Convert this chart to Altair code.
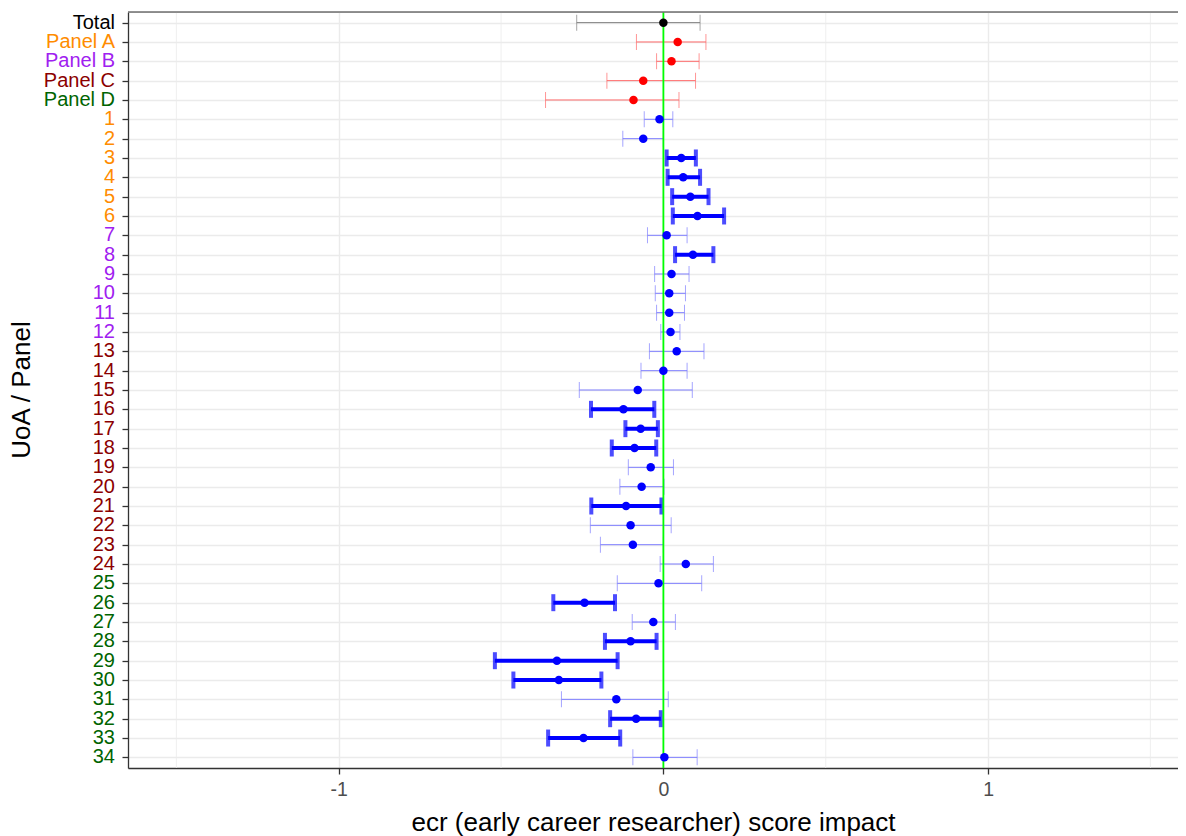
import altair as alt
import pandas as pd

# ---------------- data ----------------
labels = ["Total", "Panel A", "Panel B", "Panel C", "Panel D"] + [str(i) for i in range(1, 35)]

est = [0.000, 0.044, 0.025, -0.062, -0.092,
       -0.012, -0.062, 0.055, 0.061, 0.083, 0.105, 0.010, 0.091, 0.025, 0.018,
       0.018, 0.022, 0.041, 0.000, -0.079, -0.123, -0.070, -0.089, -0.039, -0.067,
       -0.115, -0.101, -0.094, 0.069, -0.015, -0.243, -0.031, -0.101, -0.328, -0.322,
       -0.145, -0.084, -0.246, 0.003]

lo = [-0.267, -0.083, -0.021, -0.174, -0.363,
      -0.059, -0.125, 0.010, 0.013, 0.027, 0.029, -0.049, 0.036, -0.027, -0.025,
      -0.021, -0.008, -0.043, -0.069, -0.259, -0.223, -0.117, -0.159, -0.108, -0.134,
      -0.222, -0.225, -0.194, -0.010, -0.142, -0.339, -0.096, -0.180, -0.519, -0.462,
      -0.314, -0.164, -0.355, -0.094]

hi = [0.113, 0.131, 0.110, 0.099, 0.048,
      0.029, 0.000, 0.100, 0.113, 0.139, 0.187, 0.073, 0.154, 0.079, 0.068,
      0.065, 0.051, 0.125, 0.073, 0.089, -0.028, -0.017, -0.022, 0.031, 0.002,
      -0.006, 0.024, 0.000, 0.154, 0.118, -0.149, 0.037, -0.021, -0.141, -0.191,
      0.015, -0.008, -0.133, 0.104]

significant_uoa = [3, 4, 5, 6, 8, 16, 17, 18, 21, 26, 28, 29, 30, 32, 33]

# panel membership of each row
row_panel = ["Total", "A", "B", "C", "D"] + \
    ["A"] * 6 + ["B"] * 6 + ["C"] * 12 + ["D"] * 10

minor_grid = [-1.5, -0.5, 0.5, 1.5]

# ---------------- styles ----------------
label_colors = {"Total": "#000000", "A": "#FF8C00", "B": "#A020F0", "C": "#8B0000", "D": "#006400"}
FONT = "Liberation Sans"
W, H = 1050, 756

kinds = []
for i, lab in enumerate(labels):
    if i == 0:
        kinds.append("total")
    elif i < 5:
        kinds.append("panel")
    else:
        kinds.append("bold" if int(lab) in significant_uoa else "thin")

df = pd.DataFrame({
    "label": labels,
    "est": est,
    "lo": lo,
    "hi": hi,
    "kind": kinds,
    "lcol": [label_colors[p] for p in row_panel],
})

bar_scale = alt.Scale(domain=["total", "panel", "thin", "bold"],
                      range=["#7F7F7F", "#FF6A6A", "#7F7FFF", "#0000FF"])
pt_scale = alt.Scale(domain=["total", "panel", "thin", "bold"],
                     range=["#000000", "#FF0000", "#0000FF", "#0000FF"])

xscale = alt.Scale(domain=[-1.649, 1.585], nice=False, zero=False)
ysort = labels
yscale = alt.Scale(type="point", padding=0.55)

yaxis = alt.Axis(labels=False, title=None, tickSize=6, tickColor="#333333",
                 tickWidth=1.3, domainColor="#333333", domainWidth=1.3,
                 grid=True, gridColor="#EBEBEB", gridWidth=1.4)
xaxis = alt.Axis(values=[-1, 0, 1], labelExpr="'' + datum.value",
                 title="ecr (early career researcher) score impact",
                 titleFontSize=26, titleFont=FONT, titleColor="#000000",
                 titleFontWeight="normal", titlePadding=11,
                 labelFontSize=19.5, labelFont=FONT, labelColor="#4D4D4D",
                 labelPadding=6, tickSize=6, tickColor="#333333", tickWidth=1.3,
                 domainColor="#333333", domainWidth=1.3,
                 grid=True, gridColor="#EBEBEB", gridWidth=1.4)

Y = alt.Y("label:N", sort=ysort, scale=yscale, axis=yaxis)
Yplain = alt.Y("label:N", sort=ysort, scale=yscale)

base = alt.Chart(df)

minor = alt.Chart(pd.DataFrame({"v": minor_grid})).mark_rule(
    color="#EBEBEB", strokeWidth=0.8).encode(x=alt.X("v:Q", scale=xscale, axis=xaxis))

thin_df = base.transform_filter("datum.kind != 'bold'")
bold_df = base.transform_filter("datum.kind == 'bold'")

thin_line = thin_df.mark_rule(strokeWidth=1).encode(
    x=alt.X("lo:Q", scale=xscale), x2="hi:Q", y=Y,
    color=alt.Color("kind:N", scale=bar_scale, legend=None))

thin_caps = thin_df.transform_fold(["lo", "hi"], as_=["end", "val"]).mark_tick(
    thickness=1, size=16).encode(
    x=alt.X("val:Q", scale=xscale), y=Yplain,
    color=alt.Color("kind:N", scale=bar_scale, legend=None))

bold_line = bold_df.mark_rule(strokeWidth=4).encode(
    x=alt.X("lo:Q", scale=xscale), x2="hi:Q", y=Yplain,
    color=alt.Color("kind:N", scale=bar_scale, legend=None))

bold_caps = bold_df.transform_fold(["lo", "hi"], as_=["end", "val"]).mark_tick(
    thickness=4, size=17).encode(
    x=alt.X("val:Q", scale=xscale), y=Yplain,
    color=alt.Color("kind:N", scale=bar_scale, legend=None))

zero_line = alt.Chart(pd.DataFrame({"z": [0]})).mark_rule(
    color="#00FF00", strokeWidth=1.8).encode(x=alt.X("z:Q", scale=xscale))

points = base.mark_circle(size=72, opacity=1).encode(
    x=alt.X("est:Q", scale=xscale), y=Yplain,
    fill=alt.Fill("kind:N", scale=pt_scale, legend=None))

# top border of the panel (right side is cut off in the reference)
top_border = alt.Chart(pd.DataFrame({"b": [0]})).mark_rule(
    color="#6E6E6E", strokeWidth=1.3).encode(
    x=alt.value(0), x2=alt.value(W), y=alt.value(0))

ylabels = base.mark_text(align="right", baseline="middle", fontSize=20, font=FONT).encode(
    y=Yplain, x=alt.value(-13), text="label:N", color=alt.Color("lcol:N", scale=None))

ytitle = alt.Chart(pd.DataFrame({"t": ["UoA / Panel"]})).mark_text(
    angle=270, align="center", baseline="middle", fontSize=26, font=FONT, color="#000000"
).encode(x=alt.value(-106), y=alt.value(378), text="t:N")

chart = alt.layer(minor, thin_line, thin_caps, bold_line, bold_caps, zero_line, points,
                  top_border, ylabels, ytitle).properties(
    width=W, height=H,
    autosize=alt.AutoSizeParams(type="none"),
    padding={"left": 120, "top": 4, "right": 0, "bottom": 68},
).configure_view(stroke=None).configure(background="white")

chart.save("out.html", embed_options={"renderer": "svg", "actions": False})
